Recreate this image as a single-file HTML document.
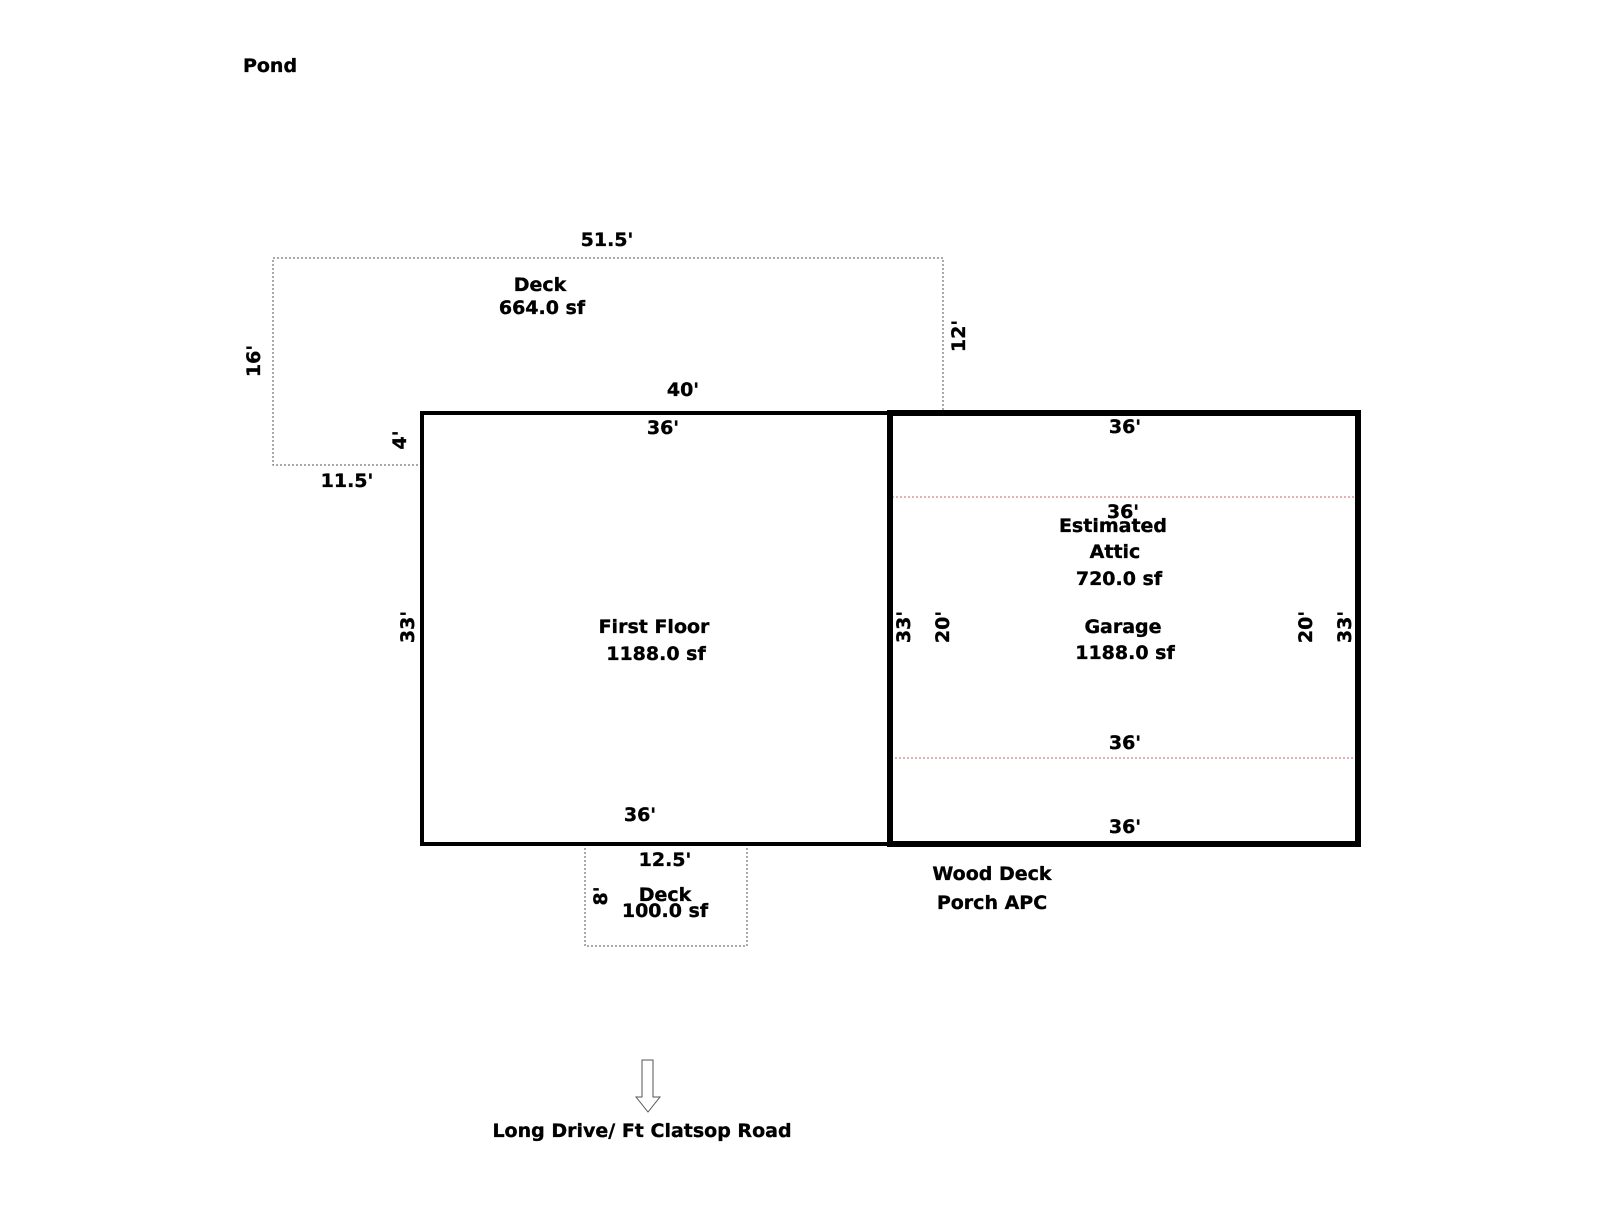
<!DOCTYPE html>
<html><head><meta charset="utf-8"><style>
html,body{margin:0;padding:0;background:#fff;}
svg text{font-family:"DejaVu Sans","Liberation Sans",sans-serif;font-weight:bold;font-size:19px;fill:#000;stroke:#000;stroke-width:0.35px;text-anchor:middle;dominant-baseline:central;}
</style></head><body>
<svg width="1600" height="1200" viewBox="0 0 1600 1200" xmlns="http://www.w3.org/2000/svg">
<rect width="1600" height="1200" fill="#fff"/>
<polyline points="422,465 273,465 273,258 943,258 943,413" fill="none" stroke="#555" stroke-width="1" stroke-dasharray="2,2"/>
<polyline points="585,844 585,946 747,946 747,844" fill="none" stroke="#555" stroke-width="1" stroke-dasharray="2,2"/>
<rect x="892" y="497" width="464" height="261" fill="none" stroke="#d06060" stroke-width="1" stroke-dasharray="2,2"/>
<rect x="422" y="413" width="468" height="431" fill="none" stroke="#000" stroke-width="4"/>
<rect x="890" y="413" width="468" height="431" fill="none" stroke="#000" stroke-width="6"/>
<polygon points="642,1060 653,1060 653,1097 660,1097 648,1112 636,1097 642,1097" fill="#fff" stroke="#555" stroke-width="1"/>
<text x="270" y="66">Pond</text>
<text x="607" y="240">51.5'</text>
<text x="540" y="285">Deck</text>
<text x="542" y="308">664.0 sf</text>
<text transform="translate(254,361) rotate(-90)">16'</text>
<text transform="translate(959,336) rotate(-90)">12'</text>
<text x="683" y="390">40'</text>
<text x="663" y="428">36'</text>
<text transform="translate(400,440) rotate(-90)">4'</text>
<text x="347" y="481">11.5'</text>
<text x="1125" y="427">36'</text>
<text x="1123" y="512">36'</text>
<text x="1113" y="526">Estimated</text>
<text x="1115" y="552">Attic</text>
<text x="1119" y="579">720.0 sf</text>
<text transform="translate(408,627) rotate(-90)">33'</text>
<text x="654" y="627">First Floor</text>
<text x="656" y="654">1188.0 sf</text>
<text transform="translate(904,627) rotate(-90)">33'</text>
<text transform="translate(943,627) rotate(-90)">20'</text>
<text x="1123" y="627">Garage</text>
<text x="1125" y="653">1188.0 sf</text>
<text transform="translate(1306,627) rotate(-90)">20'</text>
<text transform="translate(1345,627) rotate(-90)">33'</text>
<text x="1125" y="743">36'</text>
<text x="640" y="815">36'</text>
<text x="1125" y="827">36'</text>
<text x="665" y="860">12.5'</text>
<text x="665" y="895">Deck</text>
<text x="665" y="911">100.0 sf</text>
<text transform="translate(601,896) rotate(-90)">8'</text>
<text x="992" y="874">Wood Deck</text>
<text x="992" y="903">Porch APC</text>
<text x="642" y="1131">Long Drive/ Ft Clatsop Road</text>
</svg>
</body></html>
